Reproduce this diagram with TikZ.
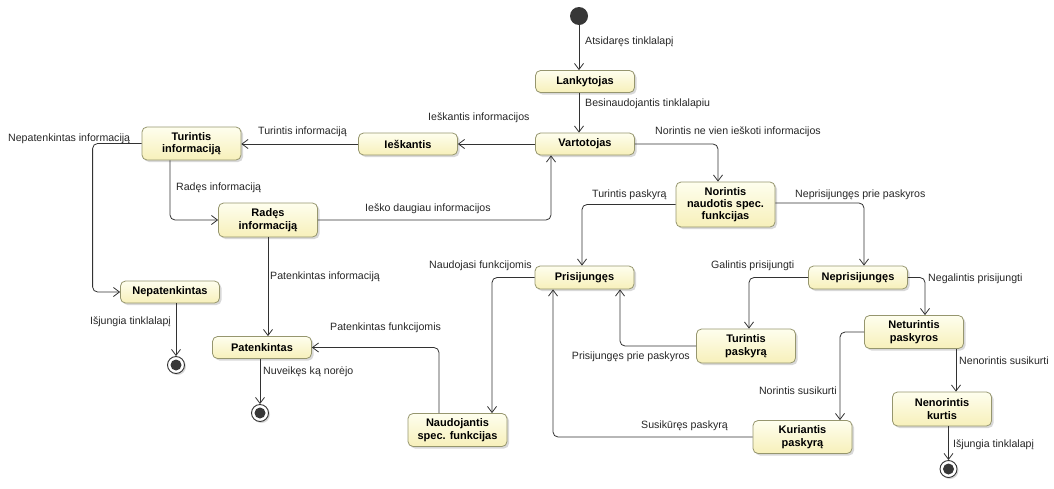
\documentclass[tikz,border=0pt]{standalone}
\usepackage{fontspec}
\setmainfont{Liberation Sans}
\usetikzlibrary{positioning}
\usetikzlibrary{arrows.meta}
\usetikzlibrary{shadows}

\definecolor{stateborder}{RGB}{150,150,110}
\definecolor{statetop}{RGB}{254,254,238}
\definecolor{statebottom}{RGB}{247,240,186}
\definecolor{lineclr}{RGB}{50,50,50}
\definecolor{dotclr}{RGB}{55,55,55}

\begin{document}
\begin{tikzpicture}[x = 1pt, y = -1pt,
	state/.style = {draw = stateborder, line width = 0.8pt, rounded corners = 5pt, top color = statetop, bottom color = statebottom, minimum width = 99pt, minimum height = 23pt, inner sep = 1pt, align = center, font = \fontsize{11}{12.3}\selectfont\bfseries, drop shadow = {shadow xshift = 2pt, shadow yshift = -2pt, fill = black!30, opacity = 0.5}},
	trans/.style = {draw = lineclr, line width = 0.8pt, rounded corners = 5pt, -{Straight Barb[length = 6pt, width = 9pt]}},
	lbl/.style = {inner sep = 0pt, font = \fontsize{10.6}{12}\selectfont, text = black!85},
	initst/.style = {circle, fill = dotclr, minimum size = 18pt, inner sep = 0pt},
	finalst/.style = {circle, draw = lineclr, line width = 0.9pt, fill = white, minimum size = 17pt, inner sep = 0pt, path picture = {\fill [dotclr] (path picture bounding box.center) circle (5.5pt);}, drop shadow = {shadow xshift = 1.5pt, shadow yshift = -1.5pt, fill = black!30, opacity = 0.5}}]
	\useasboundingbox (0, 0) rectangle (1054, 488);

	% states
	\node [initst] (init) at (579, 16) {};
	\node [state, minimum height = 22pt] (lank) at (585, 81.5) {Lankytojas};
	\node [state, minimum height = 22pt] (vart) at (585, 144) {Vartotojas};
	\node [state, minimum height = 22pt] (iesk) at (408, 144) {Ieškantis};
	\node [state, minimum height = 33pt] (turinf) at (191.5, 143.5) {Turintis\\informaciją};
	\node [state, minimum height = 34pt] (rades) at (268, 220) {Radęs\\informaciją};
	\node [state, minimum height = 22pt] (nepat) at (170, 292) {Nepatenkintas};
	\node [state, minimum height = 22pt] (patenk) at (262, 347.5) {Patenkintas};
	\node [finalst] (fin1) at (176, 365) {};
	\node [finalst] (fin2) at (260, 413) {};
	\node [state, minimum height = 33pt] (naud) at (457.5, 430) {Naudojantis\\spec. funkcijas};
	\node [state, minimum height = 45pt] (norint) at (725.5, 204.5) {Norintis\\naudotis spec.\\funkcijas};
	\node [state] (prisij) at (584.5, 277.5) {Prisijungęs};
	\node [state] (neprisij) at (858, 277.5) {Neprisijungęs};
	\node [state, minimum height = 34pt] (turpask) at (746, 346) {Turintis\\paskyrą};
	\node [state, minimum height = 33pt] (neturint) at (914, 332) {Neturintis\\paskyros};
	\node [state, minimum height = 34pt] (nenor) at (942, 409) {Nenorintis\\kurtis};
	\node [state, minimum height = 33pt] (kur) at (802.5, 437) {Kuriantis\\paskyrą};
	\node [finalst] (fin3) at (948.5, 469) {};

	% transitions
	\draw [trans] (init) -- (init |- lank.north);
	\draw [trans] (lank.south -| init) -- (vart.north -| init);
	\draw [trans] (vart.west) -- (iesk.east);
	\draw [trans] (iesk.west) -- (iesk.west -| turinf.east);
	\draw [trans] (turinf.west) -- ++(-49, 0) |- (nepat.west);
	\draw [trans] ([xshift = -21.5pt]turinf.south) |- (rades.west);
	\draw [trans] (rades.east) -| ([xshift = -34pt]vart.south);
	\draw [trans] (rades.south) -- (rades.south |- patenk.north);
	\draw [trans] (fin2 |- patenk.south) -- (fin2);
	\draw [trans] (fin1 |- nepat.south) -- (fin1);
	\draw [trans] ([xshift = -18.5pt]naud.north) |- (patenk.east);
	\draw [trans] (prisij.west) -| ([xshift = 34.5pt]naud.north);
	\draw [trans] (vart.east) -| ([xshift = -7.5pt]norint.north);
	\draw [trans] (norint.west) -| ([xshift = -2.5pt]prisij.north);
	\draw [trans] ([yshift = 1.5pt]norint.east) -| ([xshift = 6pt]neprisij.north);
	\draw [trans] (neprisij.west) -| ([xshift = 3pt]turpask.north);
	\draw [trans] (turpask.west) -| ([xshift = 35.5pt]prisij.south);
	\draw [trans] (neprisij.east) -| ([xshift = 11pt]neturint.north);
	\draw [trans] (neturint.west) -| ([xshift = 37.5pt]kur.north);
	\draw [trans] ([xshift = 42pt]neturint.south) -- ([xshift = 14pt]nenor.north);
	\draw [trans] (kur.west) -| ([xshift = -31.5pt]prisij.south);
	\draw [trans] (fin3 |- nenor.south) -- (fin3);

	% labels
	\node [lbl, anchor = west] (latsid) at (585, 42) {Atsidaręs tinklalapį};
	\node [lbl, anchor = west] (lbesin) at (585, 104) {Besinaudojantis tinklalapiu};
	\node [lbl, anchor = west] (liesk) at (428, 118) {Ieškantis informacijos};
	\node [lbl, anchor = west] (lturinf) at (258, 132) {Turintis informaciją};
	\node [lbl, anchor = west] (lnepat) at (8, 139) {Nepatenkintas informaciją};
	\node [lbl, anchor = west] (lrades) at (176, 188) {Radęs informaciją};
	\node [lbl, anchor = west] (ldaug) at (365, 209) {Ieško daugiau informacijos};
	\node [lbl, anchor = west] (lpatinf) at (270, 277) {Patenkintas informaciją};
	\node [lbl, anchor = east] (lisj1) at (171, 322) {Išjungia tinklalapį};
	\node [lbl, anchor = west] (lpatfun) at (330, 328) {Patenkintas funkcijomis};
	\node [lbl, anchor = west] (lnuv) at (263, 372) {Nuveikęs ką norėjo};
	\node [lbl, anchor = west] (lnaud) at (429, 266) {Naudojasi funkcijomis};
	\node [lbl, anchor = west] (lnevien) at (655, 132) {Norintis ne vien ieškoti informacijos};
	\node [lbl, anchor = west] (lturp) at (592, 195) {Turintis paskyrą};
	\node [lbl, anchor = west] (lneprie) at (795, 195) {Neprisijungęs prie paskyros};
	\node [lbl, anchor = west] (lgal) at (711, 266) {Galintis prisijungti};
	\node [lbl, anchor = east] (lprie) at (690, 357) {Prisijungęs prie paskyros};
	\node [lbl, anchor = west] (lnegal) at (928, 279) {Negalintis prisijungti};
	\node [lbl, anchor = east] (lnorsus) at (837, 391) {Norintis susikurti};
	\node [lbl, anchor = west] (lnenor) at (959, 361) {Nenorintis susikurti};
	\node [lbl, anchor = west] (lsusik) at (641, 426) {Susikūręs paskyrą};
	\node [lbl, anchor = west] (lisj2) at (953, 445) {Išjungia tinklalapį};
\end{tikzpicture}
\end{document}
